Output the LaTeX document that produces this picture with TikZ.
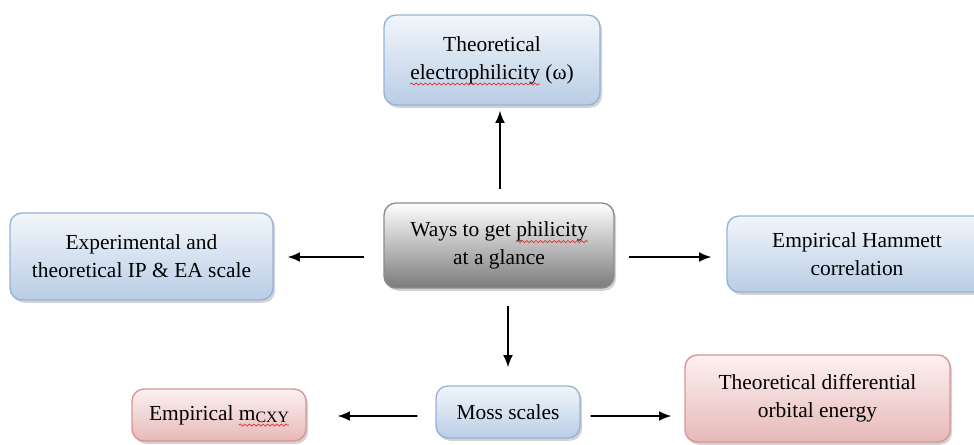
\documentclass[tikz,border=0pt]{standalone}
\usepackage{fontspec}
\setmainfont{Liberation Serif}
\usetikzlibrary{arrows.meta,shadows,decorations.pathmorphing}

\definecolor{blueedge}{HTML}{95B3D7}
\definecolor{bluetop}{HTML}{F2F6FB}
\definecolor{bluebot}{HTML}{B9CDE5}
\definecolor{rededge}{HTML}{D99694}
\definecolor{redtop}{HTML}{FDF1F1}
\definecolor{redbot}{HTML}{E6B9B8}
\definecolor{greyedge}{HTML}{8C8C8C}
\definecolor{spellred}{HTML}{E03030}

% red spell-check wave under a word
\newsavebox{\spellbox}
\newlength{\spellwd}
\newcommand{\spell}[1]{\sbox{\spellbox}{#1}\setlength{\spellwd}{\wd\spellbox}%
  \tikz[overlay,baseline=0pt,x=1pt,y=1pt]\draw[spellred,line width=0.4pt,sharp corners,
    decorate,decoration={snake,amplitude=0.6pt,segment length=2.6pt}]
    (0,-2.8) -- (\spellwd,-2.8);%
  \usebox{\spellbox}}

\begin{document}
\begin{tikzpicture}[x=0.02cm, y=-0.02cm,
  box/.style={rounded corners=0.24cm, line width=0.8pt, align=center,
    font=\fontsize{12.2}{15.9}\selectfont, inner sep=2pt,
    drop shadow={opacity=0.35, shadow xshift=1.2pt, shadow yshift=-1.6pt}},
  bluebox/.style={box, draw=blueedge, top color=bluetop, bottom color=bluebot},
  redbox/.style={box, draw=rededge, top color=redtop, bottom color=redbot},
  hubbox/.style={box, draw=greyedge, top color=white, bottom color=black!52},
  link/.style={-{Latex[length=7pt,width=5.6pt]}, line width=0.9pt}]
  \useasboundingbox (0,0) rectangle (974,444);

  % boxes
  \node[hubbox, minimum width=4.6cm, minimum height=1.7cm] (hub) at (499,245.5)
    {Ways to get \spell{philicity}\\at a glance};
  \node[bluebox, minimum width=4.32cm, minimum height=1.8cm] (omega) at (492,60)
    {Theoretical\\\spell{electrophilicity} (ω)};
  \node[bluebox, minimum width=5.26cm, minimum height=1.74cm] (ipea) at (141.5,256.5)
    {Experimental and\\theoretical IP \& EA scale};
  \node[bluebox, minimum width=5.2cm, minimum height=1.52cm] (hammett) at (857,254)
    {Empirical Hammett\\correlation};
  \node[bluebox, minimum width=2.88cm, minimum height=1.04cm] (moss) at (508,412)
    {Moss scales};
  \node[redbox, minimum width=3.48cm, minimum height=1.04cm] (mcxy) at (219,415)
    {Empirical \spell{m{\fontsize{9}{9}\selectfont\raisebox{-1.5pt}{CXY}}}};
  \node[redbox, minimum width=5.3cm, minimum height=1.74cm] (orbital) at (817.5,398.5)
    {Theoretical differential\\orbital energy};

  % arrows
  \draw[link, shorten <=0.26cm, shorten >=0.1cm] ([xshift=0.16cm]hub.north -| omega.south) -- ([xshift=0.16cm]omega.south);
  \draw[link, shorten <=0.38cm, shorten >=0.28cm] ([yshift=-0.01cm]hub.west |- ipea.east) -- ([yshift=-0.01cm]ipea.east);
  \draw[link, shorten <=0.28cm, shorten >=0.3cm] ([yshift=-0.06cm]hub.east |- hammett.west) -- ([yshift=-0.06cm]hammett.west);
  \draw[link, shorten <=0.34cm, shorten >=0.36cm] (hub.south -| moss.north) -- (moss.north);
  \draw[link, shorten <=0.36cm, shorten >=0.62cm] ([yshift=-0.08cm]moss.west) -- ([yshift=-0.02cm]mcxy.east);
  \draw[link, shorten <=0.2cm, shorten >=0.26cm] ([yshift=-0.08cm]moss.east) -- ([yshift=-0.35cm]orbital.west);
\end{tikzpicture}
\end{document}
